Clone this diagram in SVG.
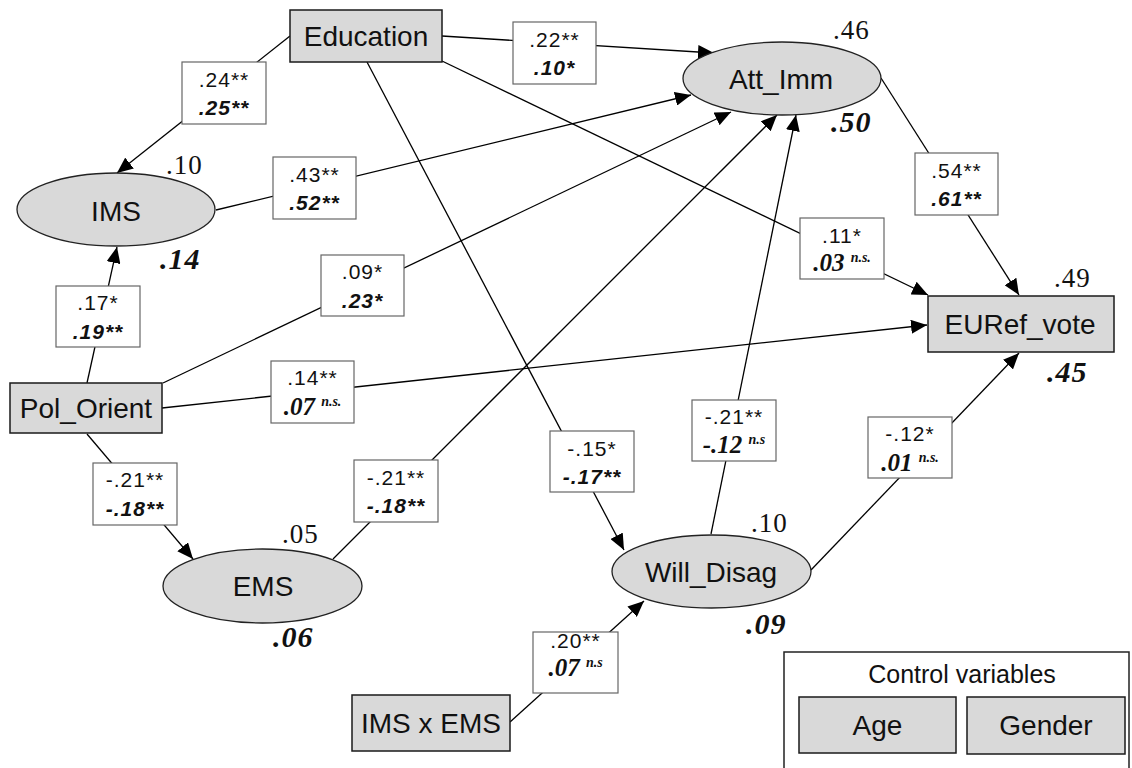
<svg xmlns="http://www.w3.org/2000/svg" width="1132" height="768" viewBox="0 0 1132 768">
<style>
.nodebox{fill:#d9d9d9;stroke:#1a1a1a;stroke-width:1.5}
.ell{fill:#d9d9d9;stroke:#222;stroke-width:1.3}
.nl{font-family:"Liberation Sans",Arial,sans-serif;font-size:28px;fill:#111;text-anchor:middle}
.lb{fill:#fff;stroke:#666;stroke-width:1.2}
.l1{font-family:"Liberation Sans",Arial,sans-serif;font-size:21px;fill:#111;text-anchor:middle;letter-spacing:1px}
.l2{font-family:"Liberation Sans",Arial,sans-serif;font-size:21px;font-weight:bold;font-style:italic;fill:#111;text-anchor:middle;letter-spacing:1px}
.l2s{font-family:"Liberation Serif","Times New Roman",serif;font-size:25px;font-weight:bold;font-style:italic;fill:#111;text-anchor:middle}
.sup{font-size:14px}
.r2{font-family:"Liberation Serif","Times New Roman",serif;font-size:27px;fill:#111;letter-spacing:1px}
.r2b{font-family:"Liberation Serif","Times New Roman",serif;font-size:30px;font-weight:bold;font-style:italic;fill:#111;letter-spacing:1px}
.edge{stroke:#000;stroke-width:1.3;fill:none}
</style>
<defs>
<marker id="arr" markerUnits="userSpaceOnUse" markerWidth="16" markerHeight="14" refX="16" refY="7" orient="auto">
<path d="M0,0 L16,7 L0,14 z" fill="#000"/>
</marker>
</defs>
<rect width="1132" height="768" fill="#fff"/>

<g id="connectors">
<line class="edge" x1="290" y1="36" x2="117" y2="173" marker-end="url(#arr)"/>
<line class="edge" x1="442" y1="36" x2="714" y2="53" marker-end="url(#arr)"/>
<line class="edge" x1="442" y1="61" x2="928" y2="295" marker-end="url(#arr)"/>
<line class="edge" x1="367" y1="62" x2="624" y2="550" marker-end="url(#arr)"/>
<line class="edge" x1="216" y1="210" x2="691" y2="95" marker-end="url(#arr)"/>
<line class="edge" x1="87" y1="383" x2="117" y2="247" marker-end="url(#arr)"/>
<line class="edge" x1="163" y1="383" x2="731" y2="112" marker-end="url(#arr)"/>
<line class="edge" x1="162" y1="408" x2="927" y2="325" marker-end="url(#arr)"/>
<line class="edge" x1="87" y1="434" x2="193" y2="559" marker-end="url(#arr)"/>
<line class="edge" x1="333" y1="559" x2="777" y2="115" marker-end="url(#arr)"/>
<line class="edge" x1="711" y1="534" x2="796" y2="115" marker-end="url(#arr)"/>
<line class="edge" x1="811" y1="570" x2="1019" y2="353" marker-end="url(#arr)"/>
<line class="edge" x1="881" y1="78" x2="1019" y2="295" marker-end="url(#arr)"/>
<line class="edge" x1="510" y1="722" x2="644" y2="601" marker-end="url(#arr)"/>
</g>

<g id="edge-labels">
<g id="lbl-edu-ims"><rect class="lb" x="182" y="62" width="84" height="62"/><text class="l1" x="224" y="87">.24**</text><text class="l2" x="224" y="115">.25**</text></g>
<g id="lbl-ims-att"><rect class="lb" x="273" y="157" width="83" height="62"/><text class="l1" x="314.5" y="182">.43**</text><text class="l2" x="314.5" y="210">.52**</text></g>
<g id="lbl-edu-att"><rect class="lb" x="513" y="22" width="83" height="62"/><text class="l1" x="554.5" y="47">.22**</text><text class="l2" x="554.5" y="75">.10*</text></g>
<g id="lbl-att-eu"><rect class="lb" x="915" y="153" width="83" height="62"/><text class="l1" x="956.5" y="178">.54**</text><text class="l2" x="956.5" y="206">.61**</text></g>
<g id="lbl-edu-eu"><rect class="lb" x="800" y="218" width="84" height="61"/><text class="l1" x="842" y="243">.11*</text><text class="l2s" x="842" y="271">.03 <tspan class="sup" dy="-9">n.s.</tspan></text></g>
<g id="lbl-pol-att"><rect class="lb" x="321" y="255" width="83" height="61"/><text class="l1" x="362.5" y="279">.09*</text><text class="l2" x="362.5" y="308">.23*</text></g>
<g id="lbl-pol-ims"><rect class="lb" x="56" y="286" width="84" height="61"/><text class="l1" x="98" y="310">.17*</text><text class="l2" x="98" y="339">.19**</text></g>
<g id="lbl-pol-eu"><rect class="lb" x="271" y="361" width="83" height="62"/><text class="l1" x="312.5" y="385">.14**</text><text class="l2s" x="312.5" y="415">.07 <tspan class="sup" dy="-9">n.s.</tspan></text></g>
<g id="lbl-pol-ems"><rect class="lb" x="93" y="463" width="84" height="62"/><text class="l1" x="135" y="487">-.21**</text><text class="l2" x="135" y="516">-.18**</text></g>
<g id="lbl-ems-att"><rect class="lb" x="354" y="460" width="84" height="62"/><text class="l1" x="396" y="485">-.21**</text><text class="l2" x="396" y="513">-.18**</text></g>
<g id="lbl-edu-will"><rect class="lb" x="550" y="431" width="84" height="61"/><text class="l1" x="592" y="456">-.15*</text><text class="l2" x="592" y="484">-.17**</text></g>
<g id="lbl-will-att"><rect class="lb" x="692" y="400" width="84" height="61"/><text class="l1" x="734" y="424">-.21**</text><text class="l2s" x="734" y="453">-.12 <tspan class="sup" dy="-9">n.s</tspan></text></g>
<g id="lbl-will-eu"><rect class="lb" x="868" y="417" width="84" height="61"/><text class="l1" x="910" y="441">-.12*</text><text class="l2s" x="910" y="471">.01 <tspan class="sup" dy="-9">n.s.</tspan></text></g>
<g id="lbl-int-will"><rect class="lb" x="533" y="632" width="85" height="61"/><text class="l1" x="575.5" y="648">.20**</text><text class="l2s" x="575.5" y="676">.07 <tspan class="sup" dy="-9">n.s</tspan></text></g>
</g>

<g id="Education"><rect class="nodebox" x="290" y="10" width="152" height="52"/><text class="nl" x="366" y="46">Education</text></g>
<g id="IMS"><ellipse class="ell" cx="116" cy="209.5" rx="99" ry="36.5"/><text class="nl" x="116" y="221">IMS</text><text class="r2" x="166" y="174">.10</text><text class="r2b" x="160" y="269">.14</text></g>
<g id="Att_Imm"><ellipse class="ell" cx="782" cy="78.5" rx="99" ry="36.5"/><text class="nl" x="781" y="89">Att_Imm</text><text class="r2" x="833" y="39">.46</text><text class="r2b" x="831" y="132">.50</text></g>
<g id="Pol_Orient"><rect class="nodebox" x="10" y="383" width="152" height="50"/><text class="nl" x="86" y="418">Pol_Orient</text></g>
<g id="EURef_vote"><rect class="nodebox" x="928" y="296" width="186" height="56"/><text class="nl" x="1020" y="334">EURef_vote</text><text class="r2" x="1054" y="287">.49</text><text class="r2b" x="1047" y="382">.45</text></g>
<g id="EMS"><ellipse class="ell" cx="262.5" cy="586" rx="99.5" ry="37"/><text class="nl" x="263" y="596">EMS</text><text class="r2" x="282" y="543">.05</text><text class="r2b" x="273" y="647">.06</text></g>
<g id="Will_Disag"><ellipse class="ell" cx="711.5" cy="571.5" rx="99.5" ry="36.5"/><text class="nl" x="711" y="582">Will_Disag</text><text class="r2" x="751" y="532">.10</text><text class="r2b" x="746" y="634">.09</text></g>
<g id="IMS_x_EMS"><rect class="nodebox" x="352" y="695" width="158" height="56"/><text class="nl" x="431" y="733">IMS x EMS</text></g>
<g id="Control_variables"><rect x="784" y="652" width="345" height="130" fill="#fff" stroke="#222" stroke-width="1.5"/><text class="nl" x="962" y="683" style="font-size:25px">Control variables</text>
<g id="Age"><rect class="nodebox" x="799" y="697" width="157" height="56"/><text class="nl" x="877.5" y="735">Age</text></g>
<g id="Gender"><rect class="nodebox" x="967" y="697" width="158" height="57"/><text class="nl" x="1046" y="735">Gender</text></g>
</g>
</svg>
